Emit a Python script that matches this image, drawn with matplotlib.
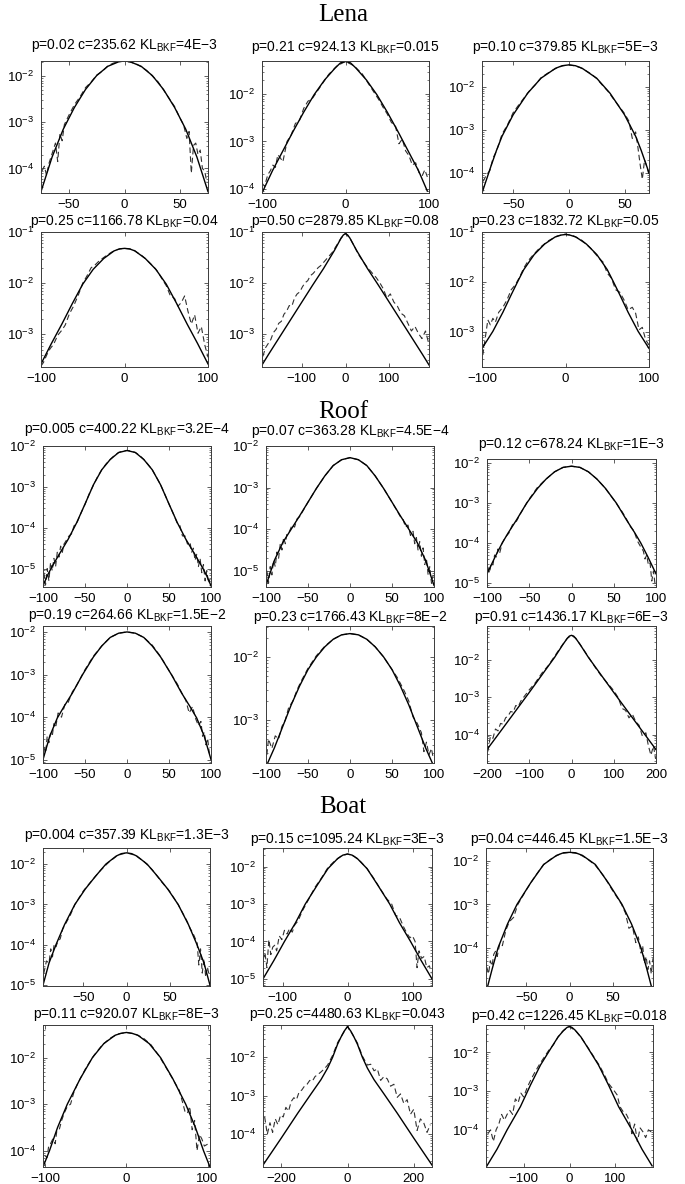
import numpy as np
import matplotlib
matplotlib.use("Agg")
import matplotlib.pyplot as plt
from matplotlib.ticker import LogLocator, NullFormatter

# ---- Lena ----
lena_p = ['0.02', '0.21', '0.10', '0.25', '0.50', '0.23']
lena_c = ['235.62', '924.13', '379.85', '1166.78', '2879.85', '1832.72']
lena_kl = ['4E-3', '0.015', '5E-3', '0.04', '0.08', '0.05']
lena_xlim = [(-75, 75), (-100, 100), (-78, 72), (-100, 100), (-190, 190), (-100, 100)]
lena_ylog = [(-4.53, -1.675), (-4.09, -1.30), (-4.47, -1.40), (-3.64, -1.0), (-3.66, -1.0), (-3.69, -1.0)]
lena_xticks = [[-50, 0, 50], [-100, 0, 100], [-50, 0, 50], [-100, 0, 100], [-100, 0, 100], [-100, 0, 100]]
lena_fit_x = [
    [-75, -65, -55, -45, -35, -25, -15, -5, 0, 5, 15, 25, 35, 45, 55, 65, 75],
    [-100, -87.5, -75, -62.5, -50, -37.5, -25, -12.5, -6, 0, 6, 12.5, 25, 37.5, 50, 62.5, 75, 87.5, 98],
    [-78, -70, -65, -60, -50, -37, -25, -12, -6, 0, 6, 12, 25, 37, 50, 60, 65, 70, 72],
    [-100, -87.5, -75, -62.5, -50, -37.5, -25, -12.5, -6, 0, 6, 12.5, 25, 37.5, 50, 62.5, 75, 87.5, 100],
    [-190, -175, -150, -125, -100, -75, -50, -25, -10, -5, 0, 5, 10, 25, 50, 75, 100, 125, 150, 175, 190],
    [-100, -87, -75, -65, -57, -50, -37.5, -25, -12.5, -5, 0, 5, 12.5, 25, 37.5, 50, 57, 65, 75, 87, 100],
]
lena_fit_logy = [
    [-4.50, -3.75, -3.15, -2.68, -2.29, -1.99, -1.79, -1.69, -1.675, -1.69, -1.79, -1.99, -2.29, -2.68, -3.15, -3.75, -4.50],
    [-4.09, -3.62, -3.2, -2.78, -2.38, -2.01, -1.70, -1.45, -1.34, -1.31, -1.34, -1.45, -1.70, -2.01, -2.38, -2.78, -3.2, -3.62, -4.05],
    [-4.47, -3.85, -3.48, -3.15, -2.65, -2.15, -1.80, -1.57, -1.51, -1.49, -1.51, -1.57, -1.80, -2.15, -2.65, -3.15, -3.48, -3.85, -4.0],
    [-3.58, -3.18, -2.80, -2.40, -2.02, -1.73, -1.52, -1.37, -1.33, -1.32, -1.33, -1.37, -1.52, -1.73, -2.02, -2.40, -2.80, -3.18, -3.58],
    [-3.62, -3.41, -3.07, -2.73, -2.39, -2.05, -1.72, -1.36, -1.12, -1.06, -1.03, -1.06, -1.12, -1.36, -1.72, -2.05, -2.39, -2.73, -3.07, -3.41, -3.62],
    [-3.32, -2.98, -2.6, -2.25, -1.98, -1.75, -1.45, -1.24, -1.10, -1.06, -1.05, -1.06, -1.10, -1.24, -1.45, -1.75, -1.98, -2.25, -2.6, -2.98, -3.32],
]
lena_hist_x = [
    [-74, -72, -70, -68, -66, -64, -62, -60, -58, -56, -54, -50, -45, -40, -35, -30, -25, -20, -15, -10, -5, 0,
     5, 10, 15, 20, 25, 30, 35, 40, 45, 50, 53, 56, 58, 60, 62, 64, 66, 68, 70, 72, 74],
    [-100, -97, -93, -90, -87, -84, -81, -78, -75, -70, -65, -60, -55, -50, -45, -40, -30, -20, -10, 0,
     10, 20, 30, 40, 45, 50, 55, 60, 64, 68, 72, 76, 80, 84, 88, 92, 95, 98],
    [-77, -74, -71, -68, -65, -60, -55, -50, -45, -40, -35, -30, -25, -20, -15, -10, -5, 0,
     5, 10, 15, 20, 25, 30, 35, 40, 45, 50, 54, 57, 60, 62, 64, 66, 68, 70, 72],
    [-100, -97, -93, -89, -85, -80, -75, -71, -66, -61, -55, -50, -45, -40, -35, -30, -25, -20, -15, -10,
     -5, 0, 5, 10, 15, 20, 25, 30, 35, 40, 45, 50, 55, 60, 64, 68, 72, 76, 80, 84, 88, 92, 96, 100],
    [-188, -182, -176, -170, -164, -158, -152, -146, -140, -134, -128, -122, -116, -110, -104, -98, -92, -86,
     -80, -74, -68, -62, -56, -50, -40, -30, -20, -10, 0, 10, 20, 30, 40, 50, 60,
     70, 78, 86, 94, 102, 110, 118, 126, 134, 142, 150, 158, 166, 174, 182, 188],
    [-99, -96, -93, -90, -87, -84, -80, -75, -70, -65, -60, -55, -50, -45, -40, -30, -20, -10, 0, 10,
     20, 30, 40, 45, 50, 55, 60, 65, 70, 75, 80, 84, 88, 92, 96, 100],
]
lena_hist_logy = [
    [-4.05, -3.95, -4.15, -3.9, -3.75, -3.6, -3.45, -3.85, -3.25, -3.4, -3.05, -2.85, -2.62, -2.45, -2.25, -2.13,
     -1.98, -1.9, -1.78, -1.72, -1.69, -1.68, -1.70, -1.73, -1.80, -1.88, -2.0, -2.12, -2.30, -2.48, -2.66, -2.92,
     -3.05, -3.35, -3.2, -4.1, -3.5, -3.45, -3.7, -3.6, -4.0, -4.05, -4.3],
    [-3.88, -3.95, -3.7, -3.62, -3.5, -3.55, -3.28, -3.35, -3.43, -3.0, -2.86, -2.62, -2.55, -2.3, -2.15, -2.1,
     -1.84, -1.58, -1.40, -1.31, -1.40, -1.57, -1.85, -2.12, -2.28, -2.42, -2.6, -2.68, -3.05, -2.95, -3.2, -3.3,
     -3.5, -3.45, -3.66, -3.72, -3.6, -3.75],
    [-4.2, -4.05, -3.95, -3.65, -3.5, -3.1, -2.88, -2.6, -2.42, -2.25, -2.08, -1.95, -1.79, -1.7, -1.62, -1.55,
     -1.51, -1.49, -1.51, -1.55, -1.62, -1.70, -1.81, -1.96, -2.1, -2.28, -2.45, -2.62, -2.8, -3.2, -3.05, -3.4,
     -3.8, -4.15, -3.7, -3.85, -4.05],
    [-3.62, -3.55, -3.4, -3.28, -3.2, -3.02, -2.92, -2.82, -2.6, -2.45, -2.22, -2.0, -1.86, -1.70, -1.64, -1.56,
     -1.50, -1.44, -1.39, -1.35, -1.33, -1.32, -1.33, -1.34, -1.40, -1.45, -1.52, -1.60, -1.68, -1.78, -1.92,
     -2.05, -2.25, -2.3, -2.45, -2.38, -2.25, -2.55, -2.8, -2.62, -2.98, -2.85, -3.2, -3.45],
    [-3.45, -3.28, -3.2, -3.12, -2.98, -2.92, -2.8, -2.76, -2.62, -2.56, -2.45, -2.46, -2.3, -2.22, -2.18, -2.08,
     -2.0, -1.96, -1.86, -1.82, -1.76, -1.70, -1.66, -1.6, -1.5, -1.4, -1.26, -1.12, -1.03, -1.12, -1.28, -1.45,
     -1.58, -1.7, -1.8, -1.9, -2.0, -2.12, -2.3, -2.22, -2.38, -2.46, -2.6, -2.65, -2.8, -2.95, -2.86, -3.0,
     -3.1, -2.95, -3.15],
    [-3.45, -3.1, -2.75, -2.85, -2.72, -2.8, -2.6, -2.5, -2.35, -2.15, -2.05, -1.9, -1.72, -1.58, -1.48, -1.3,
     -1.17, -1.08, -1.04, -1.08, -1.17, -1.32, -1.52, -1.6, -1.82, -1.92, -2.15, -2.2, -2.35, -2.55, -2.5, -2.62,
     -2.95, -2.9, -3.15, -3.25],
]

# ---- Roof ----
roof_p = ['0.005', '0.07', '0.12', '0.19', '0.23', '0.91']
roof_c = ['400.22', '363.28', '678.24', '264.66', '1766.43', '1436.17']
roof_kl = ['3.2E-4', '4.5E-4', '1E-3', '1.5E-2', '8E-2', '6E-3']
roof_xlim = [(-100, 100), (-100, 100), (-100, 100), (-100, 100), (-100, 100), (-200, 200)]
roof_ylog = [(-5.45, -2.0), (-5.39, -2.0), (-5.1, -1.9), (-5.08, -1.85), (-3.68, -1.51), (-4.76, -1.09)]
roof_xticks = [[-100, -50, 0, 50, 100]] * 5 + [[-200, -100, 0, 100, 200]]
roof_fit_x = [
    [-100, -95, -90, -81, -70, -60, -50, -40, -30, -20, -10, 0, 10, 20, 30, 40, 50, 60, 70, 81, 90, 95, 100],
    [-100, -90, -80, -70, -60, -50, -40, -30, -20, -10, 0, 10, 20, 30, 40, 50, 60, 70, 80, 90, 100],
    [-100, -90, -82, -75, -65, -53, -40, -30, -20, -10, 0, 10, 20, 30, 40, 53, 65, 75, 82, 90, 100],
    [-100, -92, -83, -75, -65, -53, -40, -30, -20, -10, 0, 10, 20, 30, 40, 53, 65, 75, 83, 92, 100],
    [-98, -90, -80, -70, -60, -50, -40, -30, -20, -10, 0, 10, 20, 30, 40, 50, 60, 70, 80, 90, 98],
    [-200, -160, -130, -100, -70, -40, -20, -10, -5, 0, 5, 10, 20, 40, 70, 100, 130, 160, 200],
]
roof_fit_logy = [
    [-5.42, -5.18, -4.98, -4.66, -4.28, -3.88, -3.42, -2.95, -2.58, -2.33, -2.16, -2.11, -2.16, -2.33, -2.58, -2.95,
     -3.42, -3.88, -4.28, -4.66, -4.98, -5.18, -5.42],
    [-5.35, -4.75, -4.32, -4.0, -3.68, -3.35, -3.02, -2.72, -2.47, -2.33, -2.28, -2.33, -2.47, -2.72, -3.02, -3.35,
     -3.68, -4.0, -4.32, -4.75, -5.35],
    [-4.77, -4.33, -4.0, -3.75, -3.42, -3.0, -2.63, -2.40, -2.22, -2.11, -2.08, -2.11, -2.22, -2.40, -2.63, -3.0,
     -3.42, -3.75, -4.0, -4.33, -4.77],
    [-5.0, -4.45, -4.02, -3.75, -3.43, -3.0, -2.58, -2.32, -2.12, -2.02, -1.99, -2.02, -2.12, -2.32, -2.58, -3.0,
     -3.43, -3.75, -4.02, -4.45, -5.0],
    [-3.68, -3.44, -3.1, -2.76, -2.46, -2.2, -2.0, -1.84, -1.72, -1.65, -1.63, -1.65, -1.72, -1.84, -2.0, -2.2,
     -2.46, -2.76, -3.1, -3.44, -3.68],
    [-4.40, -3.79, -3.33, -2.87, -2.40, -1.93, -1.58, -1.42, -1.36, -1.34, -1.36, -1.42, -1.58, -1.93, -2.40, -2.87,
     -3.33, -3.79, -4.40],
]
roof_hist_x = [
    [-99, -97, -95, -93, -91, -89, -87, -85, -83, -81, -79, -77, -75, -72, -69, -66, -63, -60,
     -55, -50, -45, -40, -35, -30, -25, -20, -15, -10, -5, 0, 5, 10, 15, 20, 25, 30, 35, 40, 45, 50, 55, 60,
     63, 66, 69, 72, 75, 77, 79, 81, 83, 85, 87, 89, 91, 93, 95, 97, 99],
    [-99, -97, -95, -93, -91, -89, -87, -85, -83, -81, -79, -77, -75, -72, -69, -66, -63, -60,
     -50, -40, -30, -20, -10, 0, 10, 20, 30, 40, 50, 60,
     63, 66, 69, 72, 75, 77, 79, 81, 83, 85, 87, 89, 91, 93, 95, 97, 99],
    [-99, -97, -95, -93, -91, -89, -87, -85, -82, -78, -74, -70, -65, -60, -50, -40, -30, -20, -10, 0,
     10, 20, 30, 40, 50, 60, 65, 70, 74, 78, 82, 85, 87, 89, 91, 93, 95, 97, 99],
    [-99, -97, -95, -93, -91, -89, -87, -85, -82, -78, -74, -70, -65, -60, -50, -40, -30, -20, -10, 0,
     10, 20, 30, 40, 50, 60, 65, 70, 74, 78, 82, 85, 88, 90, 92, 94, 96, 98],
    [-99, -97, -93, -89, -85, -81, -77, -73, -68, -63, -58, -50, -40, -30, -20, -10, 0, 10, 20, 30,
     40, 50, 56, 60, 65, 70, 75, 80, 85, 88, 91, 94, 97, 99],
    [-198, -192, -186, -180, -174, -168, -162, -156, -150, -144, -138, -132, -126, -120, -110, -100, -85, -70,
     -55, -40, -25, -10, 0, 10, 25, 40, 55, 70, 85, 100, 110, 120, 128, 136, 144, 152, 160, 168, 176, 182,
     188, 194, 199],
]
roof_hist_logy = [
    [-5.1, -5.4, -5.0, -5.3, -4.85, -5.05, -4.75, -4.95, -4.6, -4.72, -4.45, -4.6, -4.4, -4.3, -4.2, -4.15, -3.95,
     -3.9, -3.65, -3.43, -3.17, -2.96, -2.75, -2.58, -2.44, -2.33, -2.23, -2.16, -2.12, -2.11, -2.12, -2.16, -2.23,
     -2.33, -2.45, -2.58, -2.76, -2.95, -3.18, -3.42, -3.65, -3.9, -3.95, -4.2, -4.2, -4.4, -4.35, -4.6, -4.5,
     -4.8, -4.65, -4.95, -4.75, -5.1, -4.9, -5.3, -5.05, -5.35, -5.25],
    [-5.0, -5.3, -4.9, -5.1, -4.75, -4.9, -4.55, -4.7, -4.35, -4.5, -4.2, -4.35, -4.1, -4.05, -3.9, -3.95, -3.75,
     -3.7, -3.35, -3.02, -2.72, -2.47, -2.33, -2.28, -2.33, -2.47, -2.72, -3.02, -3.35, -3.7, -3.75, -3.95, -3.9,
     -4.15, -4.05, -4.35, -4.2, -4.5, -4.3, -4.65, -4.45, -4.85, -4.7, -5.1, -4.9, -5.3, -5.1],
    [-4.6, -4.75, -4.5, -4.55, -4.3, -4.35, -4.15, -4.25, -4.0, -3.85, -3.75, -3.55, -3.45, -3.25, -2.9, -2.6,
     -2.4, -2.22, -2.11, -2.08, -2.11, -2.22, -2.4, -2.63, -2.92, -3.22, -3.4, -3.6, -3.7, -3.95, -4.1, -4.2,
     -4.4, -4.3, -4.55, -4.5, -4.95, -4.7, -5.05],
    [-4.7, -4.85, -4.45, -4.6, -4.38, -4.45, -4.15, -4.25, -3.9, -4.0, -3.7, -3.65, -3.4, -3.25, -2.88, -2.56,
     -2.32, -2.12, -2.02, -1.99, -2.02, -2.12, -2.3, -2.57, -2.9, -3.22, -3.42, -3.6, -3.9, -3.75, -4.05, -4.2,
     -4.1, -4.45, -4.35, -4.65, -4.5, -4.85],
    [-3.55, -3.3, -3.45, -3.25, -3.3, -3.1, -3.0, -2.8, -2.7, -2.52, -2.38, -2.18, -1.98, -1.83, -1.72, -1.65,
     -1.63, -1.65, -1.72, -1.84, -2.0, -2.2, -2.32, -2.42, -2.55, -2.7, -2.95, -3.05, -3.2, -3.5, -3.35, -3.55,
     -3.45, -3.6],
    [-4.45, -4.05, -4.1, -3.85, -3.9, -3.7, -3.72, -3.55, -3.5, -3.38, -3.4, -3.22, -3.25, -3.1, -2.95, -2.8,
     -2.6, -2.35, -2.15, -1.9, -1.65, -1.42, -1.34, -1.42, -1.66, -1.92, -2.18, -2.42, -2.62, -2.82, -3.0, -3.3,
     -3.35, -3.55, -3.45, -3.65, -3.75, -4.05, -3.95, -4.3, -4.55, -4.3, -4.65],
]

# ---- Boat ----
boat_p = ['0.004', '0.15', '0.04', '0.11', '0.25', '0.42']
boat_c = ['357.39', '1095.24', '446.45', '920.07', '4480.63', '1226.45']
boat_kl = ['1.3E-3', '3E-3', '1.5E-3', '8E-3', '0.043', '0.018']
boat_xlim = [(-97, 97), (-130, 130), (-97, 97), (-103, 103), (-255, 255), (-182, 182)]
boat_ylog = [(-5.02, -1.6), (-5.19, -1.5), (-4.88, -1.70), (-4.35, -1.30), (-4.85, -1.16), (-4.96, -1.29)]
boat_xticks = [[-50, 0, 50], [-100, 0, 100], [-50, 0, 50], [-100, 0, 100], [-200, 0, 200], [-100, 0, 100]]
boat_fit_x = [
    [-97, -90, -82, -72, -60, -48, -36, -24, -12, -6, 0, 6, 12, 24, 36, 48, 60, 72, 82, 90, 97],
    [-130, -113, -97, -80, -65, -45, -30, -15, -7, 0, 7, 15, 30, 45, 65, 80, 97, 113, 130],
    [-95, -90, -83, -72, -61, -45, -30, -15, -7, 0, 7, 15, 30, 45, 61, 72, 83, 90, 95],
    [-103, -95, -85, -73, -57, -42, -28, -14, -7, 0, 7, 14, 28, 42, 57, 73, 85, 95, 103],
    [-255, -200, -150, -110, -80, -60, -45, -30, -20, -10, 0, 10, 20, 30, 45, 60, 80, 110, 150, 200, 255],
    [-180, -158, -136, -107, -85, -63, -41, -25, -12, -5, 0, 5, 12, 25, 41, 63, 85, 107, 136, 158, 180],
]
boat_fit_logy = [
    [-5.0, -4.45, -4.0, -3.5, -3.0, -2.62, -2.3, -2.0, -1.80, -1.74, -1.72, -1.74, -1.80, -2.0, -2.3, -2.62,
     -3.0, -3.5, -4.0, -4.45, -5.0],
    [-5.0, -4.5, -4.0, -3.5, -3.0, -2.45, -2.05, -1.78, -1.69, -1.66, -1.69, -1.78, -2.05, -2.45, -3.0, -3.5,
     -4.0, -4.5, -5.0],
    [-4.88, -4.5, -4.0, -3.45, -3.0, -2.5, -2.08, -1.87, -1.81, -1.80, -1.81, -1.87, -2.08, -2.5, -3.0, -3.45,
     -4.0, -4.5, -4.88],
    [-4.35, -4.0, -3.5, -3.0, -2.45, -2.0, -1.70, -1.52, -1.48, -1.46, -1.48, -1.52, -1.70, -2.0, -2.45, -3.0,
     -3.5, -4.0, -4.35],
    [-4.8, -4.1, -3.45, -2.95, -2.58, -2.28, -2.0, -1.66, -1.48, -1.32, -1.20, -1.32, -1.48, -1.66, -2.0, -2.28,
     -2.58, -2.95, -3.45, -4.1, -4.8],
    [-4.93, -4.5, -4.0, -3.4, -2.84, -2.32, -1.9, -1.6, -1.42, -1.35, -1.33, -1.35, -1.42, -1.6, -1.9, -2.32,
     -2.84, -3.4, -4.0, -4.5, -4.93],
]
boat_hist_x = [
    [-96, -93, -90, -88, -86, -84, -82, -80, -77, -74, -70, -65, -60, -50, -40, -30, -20, -10, 0, 10,
     20, 30, 40, 50, 60, 65, 70, 74, 77, 80, 82, 84, 86, 88, 90, 92, 94, 96],
    [-130, -127, -124, -121, -118, -115, -112, -109, -105, -101, -97, -93, -89, -85, -81, -76, -70, -60, -50, -40,
     -30, -20, -10, 0, 10, 20, 30, 40, 50, 60, 68, 74, 80, 86, 92, 96, 100, 104, 107, 110,
     114, 118, 122, 126, 129],
    [-96, -94, -92, -90, -88, -86, -84, -81, -78, -74, -70, -65, -60, -50, -40, -30, -20, -10, 0, 10,
     20, 30, 40, 50, 60, 65, 69, 73, 77, 80, 83, 85, 87, 89, 91, 93, 95, 97],
    [-101, -98, -96, -94, -91, -88, -86, -83, -80, -77, -73, -69, -65, -60, -50, -40, -30, -20, -10, 0,
     10, 20, 30, 40, 50, 60, 65, 69, 72, 75, 78, 81, 84, 87, 90, 93, 96, 100],
    [-250, -242, -234, -226, -218, -210, -202, -194, -186, -178, -170, -162, -154, -146, -138, -130, -122, -114,
     -106, -98, -90, -80, -70, -60, -45, -30, -15, 0, 15, 30, 45, 60,
     70, 80, 90, 100, 110, 120, 130, 140, 150, 160, 170, 180, 190, 200, 210, 220, 230, 240, 250],
    [-178, -172, -166, -160, -154, -148, -142, -136, -130, -124, -118, -112, -106, -100, -92, -84, -75, -65, -55,
     -45, -35, -25, -15, 0, 15, 25, 35, 45, 55, 65, 75, 85,
     95, 104, 110, 118, 124, 130, 136, 142, 148, 154, 160, 166, 172, 178],
]
boat_hist_logy = [
    [-4.7, -4.4, -4.45, -4.1, -4.3, -3.98, -4.05, -3.93, -3.85, -3.6, -3.45, -3.25, -3.0, -2.66, -2.4, -2.15,
     -1.94, -1.78, -1.72, -1.78, -1.93, -2.14, -2.42, -2.67, -3.0, -3.2, -3.4, -3.6, -3.7, -3.85, -3.94, -4.5,
     -4.1, -4.7, -4.35, -4.8, -4.55, -4.75],
    [-4.5, -4.3, -4.7, -3.95, -4.35, -4.15, -4.1, -4.25, -3.85, -3.95, -3.7, -3.8, -3.65, -3.75, -3.55, -3.45,
     -3.2, -2.88, -2.55, -2.3, -2.02, -1.85, -1.72, -1.66, -1.72, -1.86, -2.05, -2.3, -2.58, -2.85, -3.0, -3.3,
     -3.35, -3.6, -3.8, -3.9, -3.85, -4.0, -4.7, -4.25, -4.45, -4.4, -4.7, -4.65, -4.85],
    [-4.45, -4.6, -4.3, -4.42, -4.15, -4.08, -4.2, -3.9, -3.95, -3.6, -3.4, -3.3, -3.0, -2.66, -2.35, -2.08,
     -1.93, -1.83, -1.80, -1.83, -1.94, -2.1, -2.35, -2.68, -2.98, -3.2, -3.55, -3.5, -3.88, -3.75, -4.12, -3.95,
     -4.36, -4.2, -4.5, -4.3, -4.6, -4.24],
    [-4.1, -4.15, -3.9, -3.86, -3.75, -3.85, -3.58, -3.55, -3.35, -3.2, -3.05, -3.0, -2.75, -2.55, -2.22, -1.95,
     -1.73, -1.58, -1.49, -1.46, -1.49, -1.57, -1.72, -1.96, -2.25, -2.55, -2.7, -2.95, -3.15, -3.2, -3.05, -3.55,
     -3.35, -4.0, -3.65, -3.75, -3.9, -3.86],
    [-3.55, -4.0, -3.7, -3.95, -3.6, -3.75, -3.5, -3.55, -3.3, -3.4, -3.15, -3.05, -3.1, -2.9, -2.85, -2.75,
     -2.7, -2.6, -2.62, -2.5, -2.45, -2.38, -2.3, -2.2, -1.95, -1.62, -1.4, -1.2, -1.4, -1.63, -1.97, -2.2,
     -2.18, -2.35, -2.3, -2.6, -2.5, -2.56, -2.75, -2.7, -3.04, -2.95, -3.2, -3.1, -3.48, -3.35, -3.9, -3.6,
     -3.7, -3.95, -3.75],
    [-4.1, -4.0, -4.3, -4.0, -3.85, -3.6, -3.75, -3.6, -3.5, -3.6, -3.2, -3.3, -3.05, -3.15, -2.9, -2.7, -2.5,
     -2.3, -2.12, -1.94, -1.8, -1.6, -1.45, -1.33, -1.46, -1.61, -1.78, -1.96, -2.15, -2.33, -2.55, -2.8,
     -2.95, -3.1, -3.4, -3.55, -3.6, -3.75, -4.1, -3.85, -4.3, -3.95, -4.05, -4.2, -4.0, -4.05],
]

# ---- layout (pixels in a 685x1184 canvas) ----
W, H = 685, 1184
lena_boxes = [(41, 61, 208, 193), (262, 61, 429, 193), (482, 61, 649, 193),
              (41, 232, 208, 367), (262, 232, 429, 367), (482, 232, 649, 367)]
roof_boxes = [(43, 446, 211, 587), (266, 446, 434, 587), (487, 459, 656, 587),
              (43, 626, 211, 763), (266, 626, 434, 763), (487, 626, 656, 763)]
boat_boxes = [(43, 848, 210, 986), (263, 848, 432, 986), (486, 848, 653, 986),
              (43, 1025, 210, 1167), (263, 1025, 432, 1167), (486, 1025, 653, 1167)]
lena_title_y = [45, 47, 47, 221, 221, 221]
roof_title_y = [429, 431, 444, 615, 617, 617]
boat_title_y = [835, 839, 839, 1014, 1014, 1016]

plt.rcParams['font.family'] = ['Liberation Sans', 'DejaVu Sans']
plt.rcParams['mathtext.fontset'] = 'custom'
plt.rcParams['mathtext.rm'] = 'Liberation Sans'


def draw_group(fig, name, name_y, boxes, title_y, p, c, kl, xlims, ylogs, xticks,
               fit_x, fit_y, hist_x, hist_y):
    fig.text(343 / W, 1 - name_y / H, name, family='Liberation Serif', fontsize=18,
             ha='center', va='center')
    for i in range(6):
        l, t, r, b = boxes[i]
        ax = fig.add_axes([l / W, 1 - b / H, (r - l) / W, (b - t) / H])
        ax.plot(hist_x[i], 10 ** np.array(hist_y[i]), color='#303030', lw=0.8,
                ls=(0, (5, 3)))
        ax.plot(fit_x[i], 10 ** np.array(fit_y[i]), color='k', lw=1.0)
        ax.set_yscale('log')
        ax.set_xlim(*xlims[i])
        ax.set_ylim(10 ** ylogs[i][0], 10 ** ylogs[i][1])
        ax.set_xticks(xticks[i])
        ax.yaxis.set_major_locator(LogLocator(base=10))
        ax.yaxis.set_minor_locator(LogLocator(base=10, subs=np.arange(2, 10)))
        ax.yaxis.set_minor_formatter(NullFormatter())
        ax.tick_params(which='both', direction='in', top=True, right=True,
                       labelsize=9.5, color='#444444')
        ax.tick_params(which='major', length=3, width=0.6)
        ax.tick_params(which='minor', length=1.5, width=0.5)
        ax.tick_params(axis='x', pad=4)
        ax.tick_params(axis='y', pad=5)
        for s in ax.spines.values():
            s.set_color('#3a3a3a')
            s.set_linewidth(0.7)
        title = ('p=%s c=%s $\\mathregular{KL}_{\\mathregular{BKF}}$=%s'
                 % (p[i], c[i], kl[i].replace('-', '\u2212')))
        fig.text((l + r) / 2 / W, 1 - (title_y[i] + 4) / H, title, fontsize=10,
                 ha='center', va='baseline')


fig = plt.figure(figsize=(W / 100, H / 100), dpi=100)
draw_group(fig, 'Lena', 15, lena_boxes, lena_title_y, lena_p, lena_c, lena_kl,
           lena_xlim, lena_ylog, lena_xticks, lena_fit_x, lena_fit_logy, lena_hist_x, lena_hist_logy)
draw_group(fig, 'Roof', 412, roof_boxes, roof_title_y, roof_p, roof_c, roof_kl,
           roof_xlim, roof_ylog, roof_xticks, roof_fit_x, roof_fit_logy, roof_hist_x, roof_hist_logy)
draw_group(fig, 'Boat', 807, boat_boxes, boat_title_y, boat_p, boat_c, boat_kl,
           boat_xlim, boat_ylog, boat_xticks, boat_fit_x, boat_fit_logy, boat_hist_x, boat_hist_logy)
fig.savefig('out.png', dpi=100)
